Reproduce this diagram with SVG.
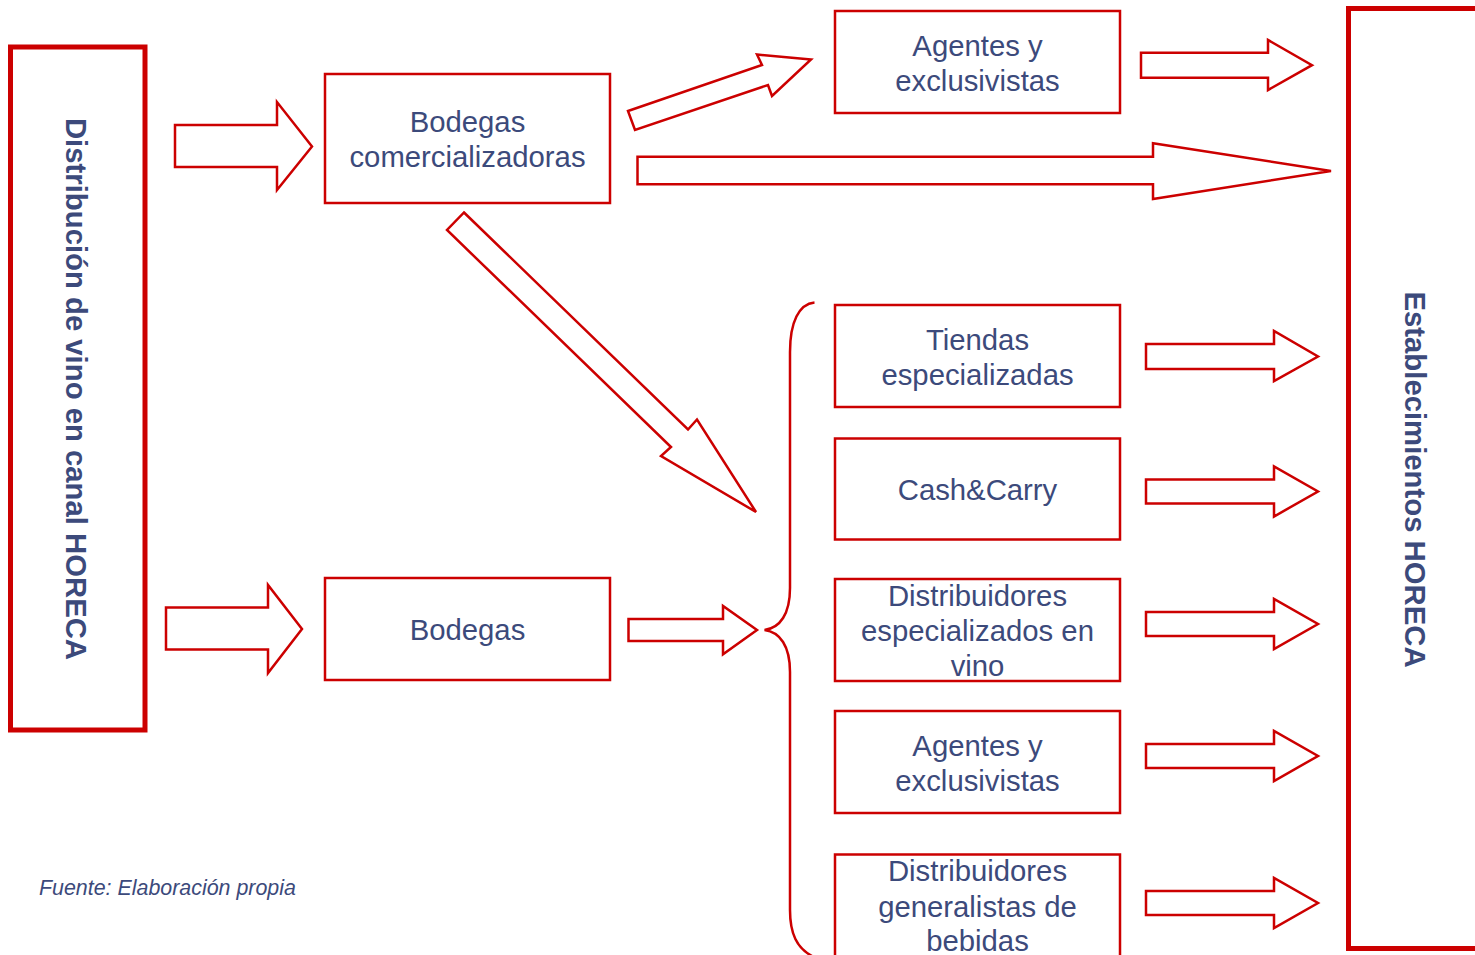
<svg xmlns="http://www.w3.org/2000/svg" width="1475" height="955" viewBox="0 0 1475 955">
<style>
  .bigbox { fill: none; stroke: #cc0000; stroke-width: 5; }
  .box { fill: #ffffff; stroke: #cc0000; stroke-width: 2.5; }
  .arrow { fill: #ffffff; stroke: #cc0000; stroke-width: 2.5; stroke-linejoin: miter; }
  .brace { fill: none; stroke: #cc0000; stroke-width: 2.5; }
  .lbl { font-family: "Liberation Sans", Arial, sans-serif; font-size: 29.3px; fill: #3c4a7b; text-anchor: middle; }
  .vlbl { font-family: "Liberation Sans", Arial, sans-serif; font-size: 29.3px; font-weight: bold; fill: #3c4a7b; text-anchor: middle; }
  .note { font-family: "Liberation Sans", Arial, sans-serif; font-size: 21.4px; font-style: italic; fill: #3c4a7b; }
</style>
<rect width="1475" height="955" fill="#ffffff"/>

<g id="connectors">
  <polygon class="arrow" points="175,125 277,125 277,102 312,146.5 277,190 277,167 175,167"/>
  <polygon class="arrow" points="166,607.5 268,607.5 268,585 302,629 268,673 268,649.5 166,649.5"/>
  <polygon class="arrow" points="628,111 762,65 757,54.5 811,59.5 772,96 768,85 635,130"/>
  <polygon class="arrow" points="637.5,156.7 1153,156.7 1153,143.3 1331,171 1153,199 1153,184.3 637.5,184.3"/>
  <polygon class="arrow" points="464,212.5 688,429.5 697,419.5 756,512 661,456 671,447 447,230"/>
  <polygon class="arrow" points="628.5,619 723,619 723,606 757,630 723,654.3 723,641 628.5,641"/>
  <polygon class="arrow" points="1141,52.7 1268,52.7 1268,40 1312,65.2 1268,90 1268,77.7 1141,77.7"/>
  <polygon class="arrow" points="1146,344 1274,344 1274,331 1318,356.5 1274,381 1274,369 1146,369"/>
  <polygon class="arrow" points="1146,479.5 1274,479.5 1274,466.5 1318,491.5 1274,516.5 1274,503.5 1146,503.5"/>
  <polygon class="arrow" points="1146,612 1274,612 1274,599 1318,624 1274,649 1274,636 1146,636"/>
  <polygon class="arrow" points="1146,744 1274,744 1274,731 1318,756 1274,781 1274,768 1146,768"/>
  <polygon class="arrow" points="1146,891 1274,891 1274,878 1318,903 1274,928 1274,915 1146,915"/>
  <path class="brace" d="M 814.5,302.5 C 799,304 790,322 790,352 L 790,588 C 790,614 780,628 764.5,630 C 780,632 790,646 790,672 L 790,910 C 790,934 797,948 812,956"/>
</g>

<g id="node-canal">
  <rect class="bigbox" x="10.5" y="47" width="134.5" height="683"/>
  <text class="vlbl" transform="translate(65.5,389) rotate(90)">Distribución de vino en canal HORECA</text>
</g>

<g id="node-horeca">
  <rect class="bigbox" x="1348.5" y="8.5" width="140" height="940"/>
  <text class="vlbl" transform="translate(1405,479.5) rotate(90)">Establecimientos HORECA</text>
</g>

<g id="node-bodegas-com">
  <rect class="box" x="325" y="74" width="285" height="129"/>
  <text class="lbl" x="467.5" y="132">Bodegas</text>
  <text class="lbl" x="467.5" y="167">comercializadoras</text>
</g>

<g id="node-bodegas">
  <rect class="box" x="325" y="578" width="285" height="102"/>
  <text class="lbl" x="467.5" y="640">Bodegas</text>
</g>

<g id="node-agentes-top">
  <rect class="box" x="835" y="11" width="285" height="102"/>
  <text class="lbl" x="977.5" y="56">Agentes y</text>
  <text class="lbl" x="977.5" y="91">exclusivistas</text>
</g>

<g id="node-tiendas">
  <rect class="box" x="835" y="305" width="285" height="102"/>
  <text class="lbl" x="977.5" y="350">Tiendas</text>
  <text class="lbl" x="977.5" y="385">especializadas</text>
</g>

<g id="node-cash">
  <rect class="box" x="835" y="438.5" width="285" height="101"/>
  <text class="lbl" x="977.5" y="500">Cash&amp;Carry</text>
</g>

<g id="node-dist-esp">
  <rect class="box" x="835" y="579" width="285" height="102"/>
  <text class="lbl" x="977.5" y="606">Distribuidores</text>
  <text class="lbl" x="977.5" y="641">especializados en</text>
  <text class="lbl" x="977.5" y="676">vino</text>
</g>

<g id="node-agentes-bottom">
  <rect class="box" x="835" y="711" width="285" height="102"/>
  <text class="lbl" x="977.5" y="756">Agentes y</text>
  <text class="lbl" x="977.5" y="791">exclusivistas</text>
</g>

<g id="node-dist-gen">
  <rect class="box" x="835" y="854.5" width="285" height="120"/>
  <text class="lbl" x="977.5" y="881">Distribuidores</text>
  <text class="lbl" x="977.5" y="917">generalistas de</text>
  <text class="lbl" x="977.5" y="951">bebidas</text>
</g>

<g id="note">
  <text class="note" x="39" y="895">Fuente: Elaboración propia</text>
</g>
</svg>
